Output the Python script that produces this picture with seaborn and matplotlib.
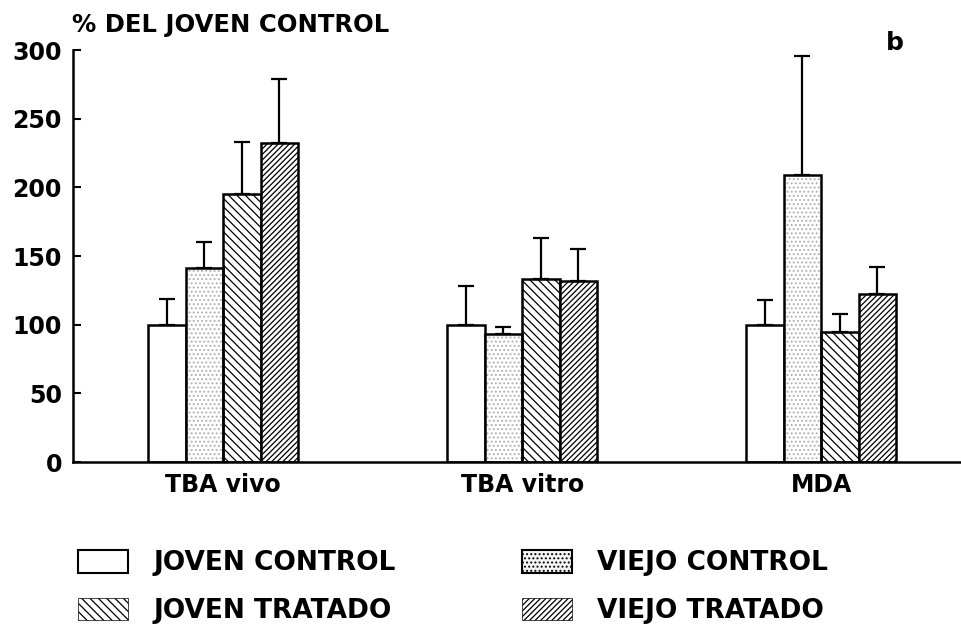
import pandas as pd
import matplotlib.pyplot as plt
import matplotlib.patches as mpatches
import seaborn as sns

# Valores (% del joven control)
categorias = ["TBA vivo", "TBA vitro", "MDA"]
grupos = ["JOVEN CONTROL", "VIEJO CONTROL", "JOVEN TRATADO", "VIEJO TRATADO"]
joven_control = [100, 100, 100]
viejo_control = [141, 93, 209]
joven_tratado = [195, 133, 95]
viejo_tratado = [232, 132, 122]
err_joven_control = [19, 28, 18]
err_viejo_control = [19, 5, 87]
err_joven_tratado = [38, 30, 13]
err_viejo_tratado = [47, 23, 20]

valores = [joven_control, viejo_control, joven_tratado, viejo_tratado]
errores = [err_joven_control, err_viejo_control, err_joven_tratado, err_viejo_tratado]

df = pd.DataFrame({
    "categoria": [c for _ in grupos for c in categorias],
    "grupo": [g for g in grupos for _ in categorias],
    "valor": [v for serie in valores for v in serie],
})

sns.set_style("ticks")
plt.rcParams["font.family"] = ["DejaVu Sans"]
plt.rcParams["font.weight"] = "bold"
plt.rcParams["hatch.linewidth"] = 0.9
for k in ["text.color", "axes.labelcolor", "xtick.color", "ytick.color", "axes.edgecolor"]:
    plt.rcParams[k] = "black"

fig = plt.figure(figsize=(9.62, 6.33), dpi=100)
ax = fig.add_axes([0.0759, 0.2701, 0.9241, 0.6509])

sns.barplot(data=df, x="categoria", y="valor", hue="grupo", order=categorias,
            hue_order=grupos, width=0.5, errorbar=None, legend=False,
            palette=["white"] * 4, edgecolor="black", linewidth=1.8,
            saturation=1, ax=ax)

estilos = [
    dict(hatch=None, edgecolor="black"),
    dict(hatch="....", edgecolor="#b0b0b0"),
    dict(hatch="\\\\\\\\", edgecolor="black"),
    dict(hatch="//////", edgecolor="black"),
]

for cont, est, errs in zip(ax.containers, estilos, errores):
    for bar, e in zip(cont.patches, errs):
        bar.set_hatch(est["hatch"])
        bar.set_edgecolor(est["edgecolor"])
        bar.set_linewidth(1.8 if est["hatch"] != "...." else 0.8)
        if est["hatch"] == "....":
            borde = mpatches.Rectangle(bar.get_xy(), bar.get_width(), bar.get_height(),
                                       fill=False, edgecolor="black", linewidth=1.8, zorder=3)
            ax.add_patch(borde)
        cx = bar.get_x() + bar.get_width() / 2
        ax.errorbar(cx, bar.get_height(), yerr=[[0], [e]], fmt="none",
                    ecolor="black", elinewidth=1.6, capsize=5.5, capthick=1.6, zorder=4)

ax.set_ylim(0, 300)
ax.set_xlim(-0.502, 2.471)
ax.set_yticks(range(0, 301, 50))
ax.set_xlabel("")
ax.set_ylabel("")
ax.tick_params(axis="y", direction="in", length=6, width=1.5, pad=8, labelsize=17)
ax.tick_params(axis="x", length=0, pad=8, labelsize=17)
for lab in ax.get_xticklabels() + ax.get_yticklabels():
    lab.set_fontweight("bold")
sns.despine(ax=ax)
ax.spines["left"].set_linewidth(1.8)
ax.spines["bottom"].set_linewidth(1.8)

fig.text(72 / 962, 1 - 25 / 633, "% DEL JOVEN CONTROL", fontsize=17.5,
         fontweight="bold", ha="left", va="center")
fig.text(895 / 962, 1 - 43 / 633, "b", fontsize=18, fontweight="bold",
         ha="center", va="center")

# Leyenda (orden por columnas)
handles = {
    "JOVEN CONTROL": mpatches.Patch(facecolor="white", edgecolor="black", linewidth=1.5),
    "VIEJO CONTROL": mpatches.Patch(facecolor="#f4f4f4", edgecolor="black", linewidth=1.5, hatch="...."),
    "JOVEN TRATADO": mpatches.Patch(facecolor="white", edgecolor="black", linewidth=0.5, hatch="\\\\\\\\"),
    "VIEJO TRATADO": mpatches.Patch(facecolor="white", edgecolor="black", linewidth=0.5, hatch="//////"),
}
orden = ["JOVEN CONTROL", "JOVEN TRATADO", "VIEJO CONTROL", "VIEJO TRATADO"]
fig.legend([handles[k] for k in orden], orden, loc="upper left",
           bbox_to_anchor=(78 / 962, 1 - 550 / 633), ncol=2, frameon=False,
           borderpad=0, borderaxespad=0, handlelength=1.9, handleheight=0.95,
           handletextpad=0.95, labelspacing=0.8, columnspacing=4.8,
           prop=dict(size=19, weight="bold"))

fig.savefig("out.png", dpi=100)
